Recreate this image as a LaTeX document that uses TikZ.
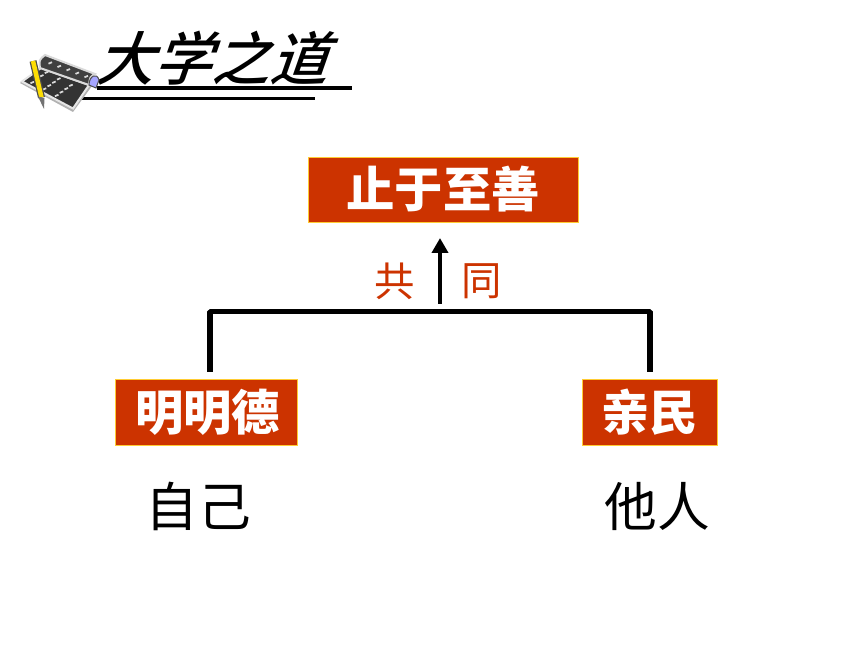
\documentclass[tikz,border=0pt]{standalone}
\usepackage{fontspec}
\usetikzlibrary{calc, arrows.meta}
\setmainfont{Noto Sans CJK SC}
\newfontfamily\mediumcjk{Noto Sans CJK SC Medium}
\definecolor{brickred}{HTML}{CC3300}
\definecolor{boxline}{HTML}{FFCC33}
\tikzset{
	redbox/.style={draw=boxline, fill=brickred, text=white, inner sep=0pt, font=\fontsize{27.5}{27.5}\selectfont\bfseries},
	blackline/.style={line width=0.105cm, line join=bevel},
	sidetext/.style={font=\fontsize{30}{30}\selectfont},
	togethertext/.style={text=brickred, font=\fontsize{23}{23}\selectfont},
	bookmark/.style={white!85!black, line width=0.035cm}
}
\begin{document}
\begin{tikzpicture}
	\useasboundingbox (0, 0) rectangle (17.2, 12.9);
	% title
	\node[xslant=0.35, transform shape, font=\mediumcjk\fontsize{33}{33}\selectfont] (title) at (4.39, 11.73) {大学之道};
	\coordinate (ruleA) at (1.94, 11.13);
	\coordinate (ruleB) at (7.04, 11.13);
	\coordinate (ruleC) at (1.56, 10.93);
	\coordinate (ruleD) at (6.3, 10.93);
	\draw[line width=0.08cm] (ruleA) -- (ruleB);
	\draw[line width=0.045cm] (ruleC) -- (ruleD);
	% book
	\fill[black!30] (0.4, 11.24) -- (0.8, 11.54) -- (1.84, 11.18) -- (1.46, 10.66) -- cycle;
	\fill[black!80, draw=white!90!black, line width=0.04cm] (0.44, 11.27) -- (0.82, 11.54) -- (1.78, 11.2) -- (1.46, 10.73) -- cycle;
	\fill[black!75, draw=white!85!black, line width=0.04cm] (0.8, 11.54) .. controls (0.78, 11.7) .. (0.9, 11.8) -- (1.9, 11.42) .. controls (1.8, 11.36) .. (1.78, 11.2) -- cycle;
	\fill[blue!35!white, draw=black!70, line width=0.02cm] (1.78, 11.2) .. controls (1.78, 11.38) and (1.94, 11.46) .. (1.98, 11.3) -- (1.92, 11.14) -- cycle;
	\foreach \u in {0.15, 0.4, 0.65, 0.9}
		\foreach \v in {0.14, 0.38, 0.62}
			\draw[bookmark] ($(0.44, 11.27)!\u!(0.82, 11.54) + \v*(1.02, -0.54) + (-0.03, 0)$) -- ++(0.07, 0.03);
	\foreach \v in {0.1, 0.3, 0.5, 0.7, 0.9}
		\draw[bookmark] ($(0.88, 11.66) + \v*(0.9, -0.34)$) -- ++(0.07, 0.03);
	\draw[line width=0.14cm, black!70] (0.66, 11.68) -- (0.83, 10.95);
	\draw[line width=0.09cm, yellow!80!orange] (0.66, 11.68) -- (0.83, 10.95);
	\fill[black!55] (0.76, 10.97) -- (0.89, 10.94) -- (0.88, 10.72) -- cycle;
	% boxes
	\node[redbox, minimum width=5.4cm, minimum height=1.3cm] (goal) at (8.86, 9.11) {止于至善};
	\node[redbox, minimum width=3.64cm, minimum height=1.32cm] (mingde) at (4.12, 4.66) {\kern 0.06cm 明明德};
	\node[redbox, minimum width=2.7cm, minimum height=1.32cm] (qinmin) at (12.99, 4.66) {亲民};
	% labels
	\node[togethertext] (gong) at (7.9, 7.28) {共};
	\node[togethertext] (tong) at (9.64, 7.28) {同};
	\node[sidetext] (ziji) at (3.96, 2.78) {自己};
	\node[sidetext] (taren) at (13.14, 2.78) {他人};
	% connectors
	\coordinate (forkL) at (4.2, 6.67);
	\coordinate (forkR) at (13, 6.67);
	\coordinate (forkLend) at (4.2, 5.46);
	\coordinate (forkRend) at (13, 5.46);
	\coordinate (stem) at (8.8, 6.82);
	\coordinate (stemTip) at (8.8, 8.14);
	\draw[blackline] (forkLend) -- (forkL) -- (forkR) -- (forkRend);
	\draw[line width=0.095cm, -{Triangle[length=0.3cm, width=0.32cm]}] (stem) -- (stemTip);
\end{tikzpicture}
\end{document}
